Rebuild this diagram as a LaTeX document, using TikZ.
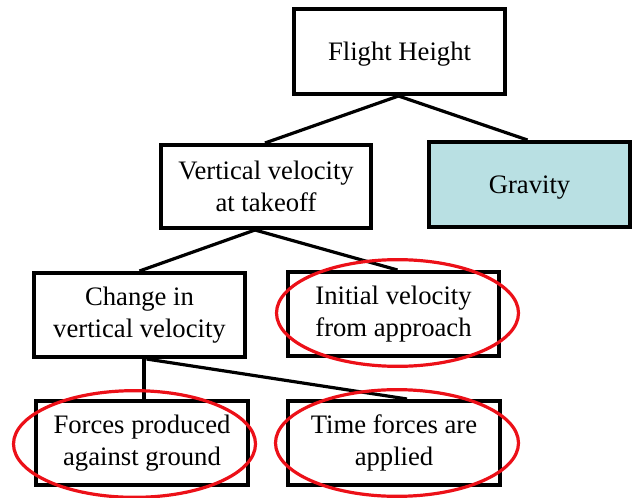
\documentclass[tikz,border=0pt]{standalone}
\usepackage{fontspec}
\setmainfont{Liberation Serif}
\usetikzlibrary{calc,shapes.geometric}
\definecolor{gravfill}{RGB}{185,224,227}
\definecolor{ringred}{RGB}{236,16,24}
\begin{document}
\begin{tikzpicture}[x=0.75pt,y=-0.75pt,
  box/.style={draw=black,line width=3pt,rectangle,align=center,
    font=\fontsize{20}{24}\selectfont,inner sep=0pt},
  link/.style={draw=black,line width=2.4pt},
  ring/.style={draw=ringred,line width=2.4pt}]
\useasboundingbox (0,0) rectangle (634,498);
\node[box,text depth=0pt,minimum width=158.25pt,minimum height=63.75pt] (fh) at (399.5,51.5) {Flight Height};
\node[box,text depth=0pt,fill=gravfill,minimum width=150.75pt,minimum height=63.75pt] (gr) at (529.5,184.5) {Gravity};
\node[box,minimum width=157.5pt,minimum height=62.25pt] (vv) at (266,186.5) {Vertical velocity\\at takeoff};
\node[box,minimum width=158.25pt,minimum height=63pt] (cv) at (139.5,315) {Change in\\vertical velocity};
\node[box,minimum width=158.25pt,minimum height=63pt] (iv) at (393.5,314) {Initial velocity\\from approach};
\node[box,minimum width=159pt,minimum height=63pt] (fp) at (142,443) {Forces produced\\against ground};
\node[box,minimum width=159pt,minimum height=63pt] (tf) at (394,443) {Time forces are\\applied};
\draw[link] ($(fh.south)+(-1,0)$) -- ($(vv.north)+(-1,0)$);
\draw[link] ($(fh.south)+(-1,0)$) -- ($(gr.north)+(-2,0)$);
\draw[link] ($(vv.south)+(-11,0)$) -- (cv.north);
\draw[link] ($(vv.south)+(-11,0)$) -- ($(iv.north)+(4,0)$);
\draw[link] ($(cv.south)+(4.5,0)$) -- ($(fp.north)+(2,0)$);
\draw[link] ($(cv.south)+(7,0)$) -- ($(tf.north)+(13,0)$);
\node[ring,ellipse,minimum width=181.5pt,minimum height=80pt,inner sep=0pt] (e1) at (397.5,313) {};
\node[ring,ellipse,minimum width=181.5pt,minimum height=80pt,inner sep=0pt] (e2) at (134.5,444) {};
\node[ring,ellipse,minimum width=182.25pt,minimum height=80pt,inner sep=0pt] (e3) at (397,443) {};
\end{tikzpicture}
\end{document}
